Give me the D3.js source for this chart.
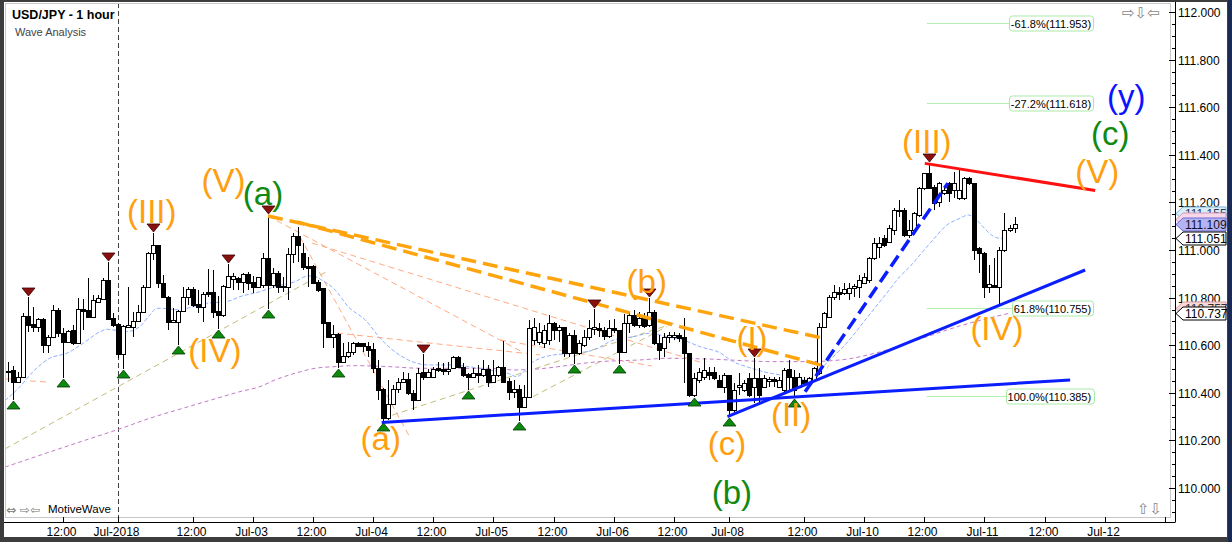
<!DOCTYPE html>
<html><head><meta charset="utf-8">
<script src="https://cdn.jsdelivr.net/npm/d3@7/dist/d3.min.js"></script>
<style>
html,body{margin:0;padding:0;background:#fff;overflow:hidden}
svg{display:block;font-family:"Liberation Sans",Arial,sans-serif}
</style></head><body>
<svg id="chart" width="1232" height="542"></svg>
<script>
// ---------------- DATA ----------------
const candleOpen=[110.490,110.494,110.447,110.466,110.723,110.689,110.678,110.709,110.601,110.636,
110.748,110.653,110.615,110.664,110.611,110.752,110.748,110.720,110.783,110.793,
110.874,110.715,110.689,110.563,110.675,110.675,110.703,110.741,110.846,110.986,
111.021,110.860,110.804,110.696,110.699,110.745,110.804,110.836,110.773,110.759,
110.825,110.823,110.745,110.727,110.846,110.877,110.884,110.867,110.899,110.867,
110.843,110.853,110.965,110.853,110.902,110.848,110.843,110.982,111.058,110.989,
110.933,110.933,110.867,110.839,110.696,110.636,110.647,110.530,110.553,110.573,
110.608,110.608,110.597,110.583,110.506,110.415,110.293,110.353,110.415,110.447,
110.457,110.398,110.370,110.489,110.466,110.466,110.503,110.500,110.493,110.503,
110.552,110.510,110.478,110.468,110.485,110.475,110.499,110.447,110.475,110.510,
110.450,110.403,110.416,110.342,110.384,110.622,110.615,110.609,110.622,110.693,
110.664,110.677,110.566,110.643,110.566,110.601,110.636,110.667,110.672,110.664,
110.639,110.672,110.664,110.573,110.692,110.727,110.685,110.714,110.685,110.741,
110.608,110.587,110.633,110.635,110.643,110.636,110.566,110.391,110.454,110.468,
110.489,110.489,110.454,110.426,110.475,110.328,110.426,110.412,110.461,110.426,
110.461,110.426,110.450,110.456,110.426,110.412,110.499,110.468,110.426,110.454,
110.447,110.454,110.482,110.678,110.720,110.804,110.825,110.818,110.818,110.839,
110.846,110.860,110.874,110.965,111.014,111.049,111.035,111.084,111.163,111.168,
111.063,111.084,111.147,111.259,111.322,111.266,111.203,111.238,111.280,111.252,
111.217,111.217,111.301,111.280,111.007,110.986,110.846,110.853,110.846,111.000,
111.084,111.091];
const candleHigh=[110.531,110.512,110.489,110.736,110.803,110.761,110.714,110.714,110.643,110.769,
110.756,110.672,110.664,110.685,110.798,110.794,110.882,110.811,110.811,110.882,
110.951,110.735,110.694,110.685,110.846,110.741,110.769,110.853,110.993,111.070,
111.021,110.895,110.807,110.755,110.748,110.846,110.843,110.846,110.832,110.825,
110.920,110.916,110.807,110.853,110.941,110.902,110.888,110.905,110.909,110.891,
110.888,110.986,111.147,110.923,110.912,110.888,111.007,111.070,111.098,111.028,
110.972,110.937,110.874,110.839,110.699,110.685,110.650,110.608,110.615,110.615,
110.615,110.611,110.615,110.608,110.538,110.419,110.454,110.433,110.461,110.489,
110.482,110.412,110.503,110.563,110.498,110.510,110.530,110.524,110.530,110.555,
110.555,110.524,110.482,110.503,110.517,110.538,110.517,110.538,110.513,110.619,
110.462,110.454,110.433,110.433,110.706,110.714,110.692,110.685,110.727,110.699,
110.685,110.678,110.650,110.664,110.622,110.664,110.706,110.752,110.692,110.677,
110.706,110.710,110.664,110.733,110.741,110.748,110.739,110.735,110.798,110.748,
110.643,110.650,110.657,110.656,110.651,110.713,110.566,110.482,110.503,110.545,
110.510,110.510,110.475,110.482,110.475,110.440,110.482,110.454,110.482,110.545,
110.503,110.475,110.468,110.468,110.468,110.503,110.538,110.496,110.482,110.468,
110.468,110.510,110.692,110.741,110.811,110.853,110.846,110.860,110.860,110.857,
110.895,110.902,110.972,111.049,111.056,111.063,111.105,111.175,111.210,111.175,
111.126,111.161,111.266,111.322,111.366,111.273,111.287,111.266,111.287,111.329,
111.336,111.308,111.308,111.280,111.014,110.993,110.937,110.965,111.014,111.154,
111.105,111.138];
const candleLow=[110.447,110.370,110.441,110.462,110.657,110.657,110.657,110.567,110.567,110.636,
110.636,110.462,110.609,110.601,110.611,110.664,110.714,110.714,110.777,110.790,
110.706,110.678,110.545,110.500,110.672,110.636,110.699,110.737,110.839,110.958,
110.839,110.804,110.664,110.692,110.601,110.741,110.769,110.762,110.734,110.699,
110.804,110.713,110.668,110.720,110.846,110.832,110.832,110.818,110.832,110.818,
110.839,110.839,110.752,110.839,110.818,110.825,110.790,110.944,110.951,110.916,
110.846,110.860,110.825,110.587,110.636,110.587,110.504,110.530,110.545,110.559,
110.594,110.573,110.552,110.482,110.370,110.277,110.286,110.349,110.399,110.440,
110.391,110.328,110.370,110.454,110.461,110.461,110.489,110.475,110.475,110.499,
110.507,110.468,110.412,110.461,110.443,110.468,110.426,110.443,110.468,110.440,
110.370,110.378,110.281,110.336,110.378,110.601,110.601,110.588,110.601,110.622,
110.615,110.552,110.552,110.521,110.559,110.594,110.622,110.643,110.636,110.622,
110.630,110.651,110.521,110.566,110.651,110.677,110.672,110.672,110.678,110.601,
110.538,110.552,110.608,110.622,110.615,110.440,110.384,110.384,110.440,110.454,
110.454,110.454,110.426,110.398,110.299,110.321,110.391,110.403,110.384,110.356,
110.356,110.419,110.426,110.426,110.419,110.405,110.412,110.378,110.419,110.433,
110.440,110.454,110.475,110.671,110.713,110.790,110.790,110.811,110.790,110.804,
110.797,110.860,110.860,110.958,110.965,111.014,111.028,111.063,111.140,111.056,
111.049,111.070,111.140,111.252,111.259,111.168,111.182,111.231,111.203,111.217,
111.210,111.210,111.273,110.958,110.902,110.797,110.818,110.839,110.769,110.993,
111.077,111.070];
const candleClose=[110.486,110.447,110.466,110.723,110.685,110.678,110.709,110.601,110.636,110.748,
110.651,110.615,110.661,110.611,110.751,110.745,110.720,110.790,110.797,110.874,
110.710,110.685,110.563,110.681,110.683,110.703,110.741,110.846,110.986,111.021,
110.860,110.804,110.699,110.706,110.745,110.804,110.836,110.769,110.759,110.815,
110.815,110.741,110.727,110.849,110.891,110.891,110.867,110.899,110.860,110.846,
110.885,110.965,110.853,110.905,110.846,110.844,110.982,111.058,111.021,110.930,
110.926,110.863,110.832,110.692,110.636,110.647,110.530,110.553,110.573,110.611,
110.598,110.597,110.580,110.503,110.412,110.293,110.353,110.415,110.447,110.457,
110.398,110.370,110.485,110.466,110.489,110.500,110.496,110.493,110.500,110.552,
110.510,110.475,110.468,110.485,110.475,110.499,110.447,110.475,110.510,110.447,
110.403,110.416,110.342,110.384,110.671,110.678,110.657,110.664,110.693,110.664,
110.677,110.566,110.643,110.566,110.608,110.636,110.671,110.678,110.664,110.639,
110.672,110.664,110.573,110.692,110.727,110.685,110.714,110.681,110.741,110.608,
110.580,110.636,110.641,110.643,110.630,110.566,110.391,110.461,110.489,110.496,
110.475,110.461,110.426,110.475,110.328,110.412,110.433,110.440,110.391,110.461,
110.391,110.461,110.456,110.450,110.454,110.496,110.468,110.412,110.468,110.440,
110.461,110.503,110.678,110.734,110.804,110.825,110.815,110.835,110.839,110.850,
110.874,110.888,110.965,111.028,111.028,111.021,111.091,111.168,111.168,111.063,
111.084,111.154,111.259,111.322,111.259,111.196,111.280,111.252,111.238,111.280,
111.252,111.301,111.280,111.000,110.986,110.846,110.857,110.846,111.000,111.084,
111.091,111.109];

// swing markers (candle indices)
const pivotHighIdx=[4,20,29,44,52,83,117,128,149,184];
const pivotLowIdx=[1,11,23,34,42,52,66,75,92,102,113,122,137,144,157];

// time axis ticks (candle index) and labels
const timeTickIdx=[11,22,37,49,61,73,85,97,109,121,133,144,159,171,183,195,207,219,231];
const timeTickLabel=["12:00","Jul-2018","12:00","Jul-03","12:00","Jul-04","12:00","Jul-05","12:00","Jul-06","12:00","Jul-08","12:00","Jul-10","12:00","Jul-11","12:00","Jul-12",""];
const monthStartIdx=22;

// price axis
const priceTicks=[110.0,110.2,110.4,110.6,110.8,111.0,111.2,111.4,111.6,111.8,112.0];

// moving averages [index, value]
const fastMA=[[-0.5,110.367],[2.5,110.426],[5.1,110.489],[8.5,110.546],[11.8,110.566],[15.1,110.608],[18.5,110.657],[19.8,110.667],[21.1,110.664],[23.8,110.657],[26.4,110.678],[28.4,110.727],[29.8,110.755],[31,110.755],[34.4,110.748],[37,110.762],[39.8,110.776],[43.7,110.783],[46.4,110.804],[50.4,110.825],[53.4,110.846],[57.4,110.867],[60,110.891],[61,110.891],[62.7,110.874],[65.4,110.832],[68,110.762],[71.4,110.706],[74.7,110.622],[77.3,110.573],[80,110.538],[84,110.517],[88,110.517],[92,110.510],[96,110.496],[99.9,110.482],[101.6,110.468],[105,110.531],[109,110.559],[113,110.566],[117,110.580],[121,110.622],[125,110.636],[128.2,110.650],[131.6,110.636],[134.8,110.622],[138.2,110.594],[142.3,110.567],[144.8,110.531],[147.5,110.510],[150.8,110.489],[154.2,110.475],[157.5,110.461],[159.5,110.454],[160.8,110.468],[163.5,110.525],[166.2,110.580],[167.5,110.609],[171.5,110.714],[175.5,110.819],[178.1,110.888],[180.1,110.930],[182.4,110.986],[184.7,111.042],[187.5,111.105],[190.1,111.133],[191.8,111.147],[193.1,111.133],[194.7,111.098],[196.4,111.063],[198.1,111.049],[199.4,111.056]];
const slowMA=[[-0.5,110.088],[16.1,110.205],[21.8,110.244],[28.4,110.293],[35,110.335],[41.8,110.377],[46.4,110.405],[50.4,110.426],[53.4,110.454],[57.4,110.482],[61.4,110.503],[65.4,110.510],[69.4,110.514],[76,110.510],[82.7,110.503],[89.3,110.503],[95.9,110.503],[101.3,110.496],[104.9,110.499],[118.3,110.531],[126.2,110.538],[131.6,110.545],[139.6,110.542],[152.8,110.531],[159.6,110.531],[166.2,110.538],[174.2,110.572],[181.6,110.622],[190.1,110.681],[200.1,110.735]];

// drawn trend lines: [i1, p1, i2, p2]
const orangeDashLines=[[52.0,111.143,162.8,110.629],[57.8,111.118,163.8,110.508]];
const blueSolidLines=[[74.7,110.275,212.1,110.454],[143.7,110.300,215.1,110.916]];
const blueDashLines=[[159.2,110.404,187.7,111.281]];
const redLines=[[183.1,111.364,217.1,111.250]];
const oliveLines=[[-0.5,110.164,63.7,110.909],[74.9,110.293,133.2,110.693],[104.9,110.384,131.6,110.678]];
const salmonLines=[[52,111.143,102.7,110.572],[58.4,111.055,80.3,110.214],[60.8,111.029,138.2,110.529],[65.8,110.651,106.3,110.559],[98.3,110.622,128.6,110.513],[-0.5,110.458,2.5,110.458],[4.5,110.450,8.1,110.445]];

// fibonacci levels
const fibLevel=[111.953,111.618,110.755,110.385];
const fibText=["-61.8%(111.953)","-27.2%(111.618)","61.8%(110.755)","100.0%(110.385)"];
const fibStartIdx=183.5, fibEndIdx=216.7;

// wave labels: text, center index, baseline price, colour key
const waveText=["(III)","(V)","(a)","(IV)","(a)","(b)","(I)","(c)","(II)","(b)","(III)","(IV)","(V)","(c)","(y)"];
const waveIdx=[28.8,43.1,51.0,41.4,74.5,127.6,148.6,143.6,156.4,144.6,183.5,197.5,217.5,220.1,223.3];
const wavePrice=[111.113,111.244,111.189,110.529,110.160,110.819,110.580,110.139,110.261,109.933,111.408,110.622,111.281,111.441,111.597];
const waveColor=["o","o","g","o","o","o","o","o","o","g","o","o","o","g","b"];

// right-axis price markers (value, show text)
const markerPrice=[111.155,111.131,111.109,111.051,110.757,110.737];
const markerShowText=[true,false,true,true,true,true];
const markerStyle=[["#d6eefa","#7fb3d5","#335"],["#f8d8e8","#d898b8","#335"],["#b4b4f4","#6a6ad8","#112"],["#ffffff","#000000","#000"],["#f8d8d8","#d8a0a0","#333"],["#ffffff","#000000","#000"]];

// ---------------- CHART ----------------
const W=1232,H=542;
const svg=d3.select("#chart");
const plot={l:5,r:1170,t:3,b:517};
const axisX=1175, axisY=522;
const x=d3.scaleLinear().domain([0,200]).range([7.5,7.5+5.01*200]);
const y=d3.scaleLinear().domain([110,112]).range([488,12]);
const colors={o:"#ff9f0f",g:"#0f8a12",b:"#0a14ff"};

// window frame
svg.append("rect").attr("width",W).attr("height",H).attr("fill","#3d3d3d");
svg.append("rect").attr("x",4).attr("y",2).attr("width",1223).attr("height",535).attr("fill","#fff");
svg.append("rect").attr("x",1228).attr("y",0).attr("width",4).attr("height",H).attr("fill","#1a2a55");
svg.append("rect").attr("x",plot.l+0.5).attr("y",plot.t+0.5).attr("width",plot.r-plot.l).attr("height",plot.b-plot.t)
  .attr("fill","none").attr("stroke","#c8c8c8");

const defs=svg.append("defs");
defs.append("clipPath").attr("id","clip").append("rect")
  .attr("x",plot.l+1).attr("y",plot.t+1).attr("width",plot.r-plot.l-1).attr("height",plot.b-plot.t-1);
const g=svg.append("g").attr("clip-path","url(#clip)");

// month-start dashed line
const xm=Math.round(x(monthStartIdx))+0.5;
g.append("line").attr("x1",xm).attr("x2",xm).attr("y1",plot.t).attr("y2",plot.b)
  .attr("stroke","#444").attr("stroke-dasharray","5,3");

function seg(arr,stroke,width,dash){
  arr.forEach(d=>{
    g.append("line").attr("x1",x(d[0])).attr("y1",y(d[1])).attr("x2",x(d[2])).attr("y2",y(d[3]))
     .attr("stroke",stroke).attr("stroke-width",width).attr("stroke-dasharray",dash||null);
  });
}
seg(oliveLines,"#c2be7c",1,"6,4");
seg(salmonLines,"#ffab85",1,"6,4");

// moving averages
const ln=d3.line().x(d=>x(d[0])).y(d=>y(d[1])).curve(d3.curveMonotoneX);
g.append("path").attr("d",ln(slowMA)).attr("fill","none").attr("stroke","#c27ac9").attr("stroke-width",1).attr("stroke-dasharray","4,3");
g.append("path").attr("d",ln(fastMA)).attr("fill","none").attr("stroke","#8fb0ff").attr("stroke-width",1).attr("stroke-dasharray","4,2");

// fibonacci lines
fibLevel.forEach((v,k)=>{
  const yy=Math.round(y(v))+0.5;
  const xr=x(fibEndIdx);
  const t=g.append("text").attr("x",xr-2).attr("y",yy+4).attr("text-anchor","end")
    .attr("font-size","11px").attr("fill","#000").text(fibText[k]);
  const bb=t.node().getBBox();
  g.insert("rect","text").attr("x",Math.round(bb.x-2)+0.5).attr("y",yy-7.5).attr("width",Math.round(bb.width+4)).attr("height",15)
    .attr("rx",3).attr("fill","#fff").attr("stroke","#a9eaa9");
  g.append("line").attr("x1",x(fibStartIdx)).attr("x2",Math.round(bb.x-2)).attr("y1",yy).attr("y2",yy)
    .attr("stroke","#b4f0b4").attr("stroke-width",1);
  t.raise();
});

// candles
const cg=g.append("g");
candleOpen.forEach((o,i)=>{
  const c=candleClose[i], hi=candleHigh[i], lo=candleLow[i];
  const cx=Math.round(x(i));
  cg.append("line").attr("x1",cx+0.5).attr("x2",cx+0.5).attr("y1",Math.round(y(hi))).attr("y2",Math.round(y(lo)))
    .attr("stroke","#000").attr("stroke-width",1);
  const yt=Math.round(y(Math.max(o,c))), yb=Math.round(y(Math.min(o,c)));
  if(c>=o){
    cg.append("rect").attr("x",cx-1.5).attr("y",yt+0.5).attr("width",4).attr("height",Math.max(1,yb-yt))
      .attr("fill","#fff").attr("stroke","#000").attr("stroke-width",1);
  }else{
    cg.append("rect").attr("x",cx-2).attr("y",yt).attr("width",5).attr("height",Math.max(1,yb-yt+1)).attr("fill","#000");
  }
});

// trend lines
seg(orangeDashLines,"#ffa40d",3.5,"15,7");
seg(blueSolidLines,"#0a1eff",3,null);
seg(blueDashLines,"#0a1eff",3.5,"13,6");
seg(redLines,"#ff1010",3,null);

// pivot markers
pivotHighIdx.forEach(i=>{
  const cx=Math.round(x(i))+0.5, yy=Math.round(y(candleHigh[i]))-1;
  g.append("path").attr("d",`M${cx-6.5},${yy-8}L${cx+6.5},${yy-8}L${cx},${yy}Z`)
    .attr("fill","#8a1010").attr("stroke","#3a0000").attr("stroke-width",0.8);
});
pivotLowIdx.forEach(i=>{
  const cx=Math.round(x(i))+0.5, yy=Math.round(y(candleLow[i]))+1;
  g.append("path").attr("d",`M${cx-6.5},${yy+8}L${cx+6.5},${yy+8}L${cx},${yy}Z`)
    .attr("fill","#0d8a0d").attr("stroke","#013801").attr("stroke-width",0.8);
});

// wave labels
waveText.forEach((t,k)=>{
  g.append("text").attr("x",x(waveIdx[k])).attr("y",y(wavePrice[k])).attr("text-anchor","middle")
    .attr("font-size","33px").attr("fill",colors[waveColor[k]]).text(t);
});

// title and decorations
svg.append("text").attr("x",12).attr("y",19).attr("font-size","12.5px").attr("font-weight","bold").attr("fill","#000").text("USD/JPY - 1 hour");
svg.append("text").attr("x",15).attr("y",36).attr("font-size","11px").attr("fill","#444").text("Wave Analysis");
svg.append("text").attr("x",6).attr("y",514).attr("font-size","12px").attr("fill","#777").attr("font-family","DejaVu Sans").text("⇔ ⇨⇦");
svg.append("text").attr("x",48).attr("y",513).attr("font-size","11.5px").attr("fill","#000").text("MotiveWave");
svg.append("text").attr("x",1122).attr("y",18).attr("font-size","15px").attr("fill","#888").attr("font-family","DejaVu Sans").text("⇨⇩⇦");
svg.append("text").attr("x",1137).attr("y",514).attr("font-size","15px").attr("fill","#888").attr("font-family","DejaVu Sans").text("⇧⇩");

// y axis
svg.append("line").attr("x1",axisX+0.5).attr("x2",axisX+0.5).attr("y1",2).attr("y2",axisY).attr("stroke","#000");
const minor=d3.range(109.85,112.1,0.05);
minor.forEach(v=>{const yy=Math.round(y(v))+0.5; if(yy<4||yy>516)return;
  svg.append("line").attr("x1",axisX-3).attr("x2",axisX).attr("y1",yy).attr("y2",yy).attr("stroke","#000");});
priceTicks.forEach(v=>{
  const yy=Math.round(y(v))+0.5;
  svg.append("line").attr("x1",axisX-6).attr("x2",axisX).attr("y1",yy).attr("y2",yy).attr("stroke","#000");
  svg.append("text").attr("x",axisX+3).attr("y",yy+4.5).attr("font-size","12px").attr("fill","#000").text(v.toFixed(3));
});

// price markers (later ones drawn over earlier, as on the platform)
markerPrice.forEach((v,k)=>{
  const yy=Math.round(y(v))+0.5, s=markerStyle[k];
  svg.append("path").attr("d",`M${axisX+1},${yy}L${axisX+8},${yy-6.5}L1226,${yy-6.5}L1226,${yy+6.5}L${axisX+8},${yy+6.5}Z`)
    .attr("fill",s[0]).attr("stroke",s[1]).attr("stroke-width",1);
  if(markerShowText[k])
    svg.append("text").attr("x",axisX+10).attr("y",yy+4.5).attr("font-size","12px").attr("fill",s[2]).text(v.toFixed(3));
});

// x axis
svg.append("line").attr("x1",4).attr("x2",axisX+0.5).attr("y1",axisY+0.5).attr("y2",axisY+0.5).attr("stroke","#000");
timeTickIdx.forEach((i,k)=>{
  const xx=Math.round(x(i))+0.5;
  svg.append("line").attr("x1",xx).attr("x2",xx).attr("y1",axisY-5).attr("y2",axisY).attr("stroke","#000");
  svg.append("text").attr("x",xx-2).attr("y",536).attr("text-anchor","middle").attr("font-size","12px").attr("fill","#000").text(timeTickLabel[k]);
});
</script>
</body></html>
